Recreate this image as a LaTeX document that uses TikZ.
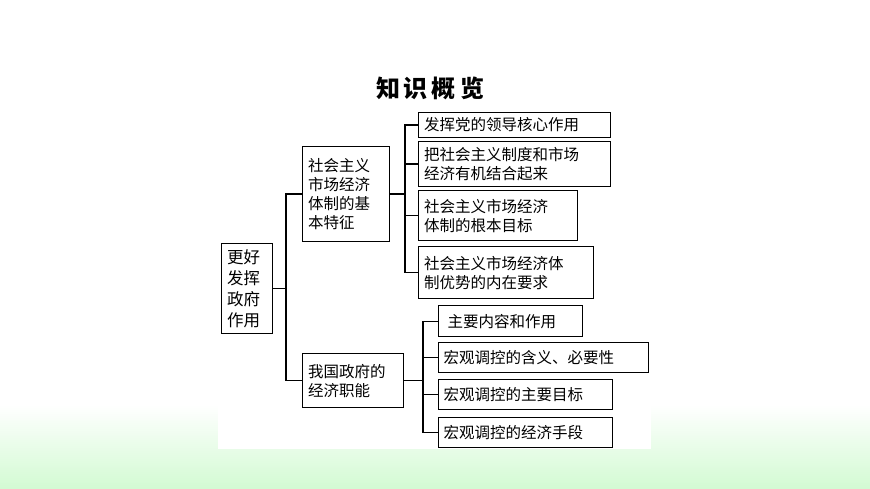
\documentclass[tikz,border=0pt]{standalone}
\usepackage{fontspec}
\setmainfont{Noto Sans CJK SC}
\begin{document}
\begin{tikzpicture}[x=1pt,y=-1pt,
  bx/.style={draw,line width=1.2pt,anchor=north west,inner sep=0pt,align=left,font=\fontsize{15.5}{19}\selectfont},
  ln/.style={line width=1.2pt}]
\useasboundingbox (0,0) rectangle (870,489);
\shade[top color=white,bottom color=green!25!black!3!white!85!green] (0,405) rectangle (870,489);
\fill[white] (218,100) rectangle (651,449);
\node[font=\bfseries\fontsize{24}{28}\selectfont] (t) at (430,88) {知\,识\,概\,览};
\newcommand{\bxn}[6]{\node[bx,minimum width=#3-#2,minimum height=#5-#4,text width=#3-#2-8] (#1) at (#2,#4) {\hspace*{3pt}\parbox{#3-#2-10pt}{#6}};}
\node[bx,minimum width=51,minimum height=90] (r) at (221,243) {\hspace*{4pt}\parbox{44pt}{\fontsize{16.5}{21}\selectfont 更好\\发挥\\政府\\作用}};
\node[bx,minimum width=87,minimum height=95] (A) at (302,146) {\hspace*{4pt}\parbox{80pt}{社会主义\\市场经济\\体制的基\\本特征}};
\node[bx,minimum width=101,minimum height=54] (B) at (302,353) {\hspace*{4pt}\parbox{94pt}{我国政府的\\经济职能}};
\node[bx,minimum width=192,minimum height=25] (a1) at (418,112) {\hspace*{4pt}\parbox{185pt}{发挥党的领导核心作用}};
\node[bx,minimum width=192,minimum height=45] (a2) at (418,141) {\hspace*{4pt}\parbox{185pt}{把社会主义制度和市场\\经济有机结合起来}};
\node[bx,minimum width=159,minimum height=50] (a3) at (418,190) {\hspace*{4pt}\parbox{152pt}{社会主义市场经济\\体制的根本目标}};
\node[bx,minimum width=175,minimum height=52] (a4) at (418,246) {\hspace*{4pt}\parbox{168pt}{社会主义市场经济体\\制优势的内在要求}};
\node[bx,minimum width=144,minimum height=31] (b1) at (438,305) {\hspace*{8pt}\parbox{134pt}{主要内容和作用}};
\node[bx,minimum width=210,minimum height=30] (b2) at (438,342) {\hspace*{4pt}\parbox{204pt}{宏观调控的含义、必要性}};
\node[bx,minimum width=174,minimum height=30] (b3) at (438,379) {\hspace*{4pt}\parbox{168pt}{宏观调控的主要目标}};
\node[bx,minimum width=174,minimum height=30] (b4) at (438,417) {\hspace*{4pt}\parbox{168pt}{宏观调控的经济手段}};
% root connectors
\coordinate (rs) at (286,0);
\draw[ln] (r.east) -- (r.east -| rs);
\draw[ln] (A.west) -| (rs |- r.east) |- (B.west);
% A connectors
\coordinate (as) at (405,0);
\draw[ln] (A.east) -- (A.east -| as);
\draw[ln] (a1.west) -| (as |- A.east) |- (a4.west);
\draw[ln] (a2.west) -- (a2.west -| as);
\draw[ln] (a3.west) -- (a3.west -| as);
% B connectors
\coordinate (bs) at (423,0);
\draw[ln] (B.east) -- (B.east -| bs);
\draw[ln] (b1.west) -| (bs |- B.east) |- (b4.west);
\draw[ln] (b2.west) -- (b2.west -| bs);
\draw[ln] (b3.west) -- (b3.west -| bs);
\end{tikzpicture}
\end{document}
